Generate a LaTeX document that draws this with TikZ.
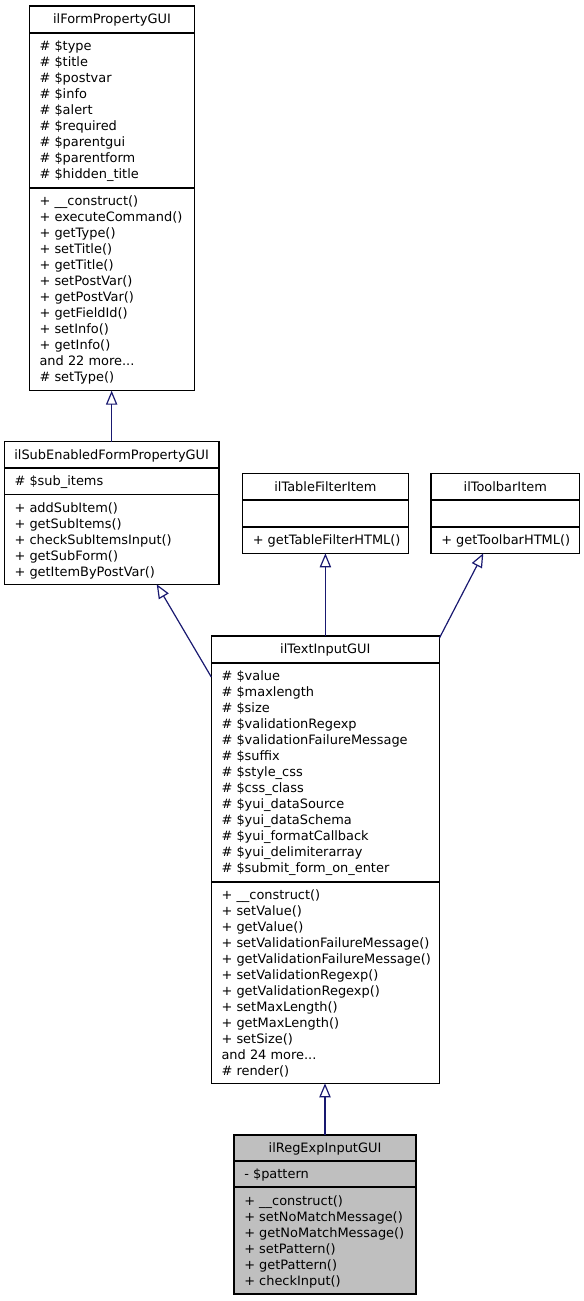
\documentclass[tikz,border=0pt]{standalone}
\usepackage{fontspec}
\setmainfont{DejaVu Sans}
\usetikzlibrary{arrows.meta,calc,fit}
\definecolor{edgeblue}{HTML}{191970}
\definecolor{regfill}{HTML}{BFBFBF}
\tikzset{
  box/.style={draw=black, line width=0.8pt, inner sep=0pt, outer sep=0pt},
  sepline/.style={draw=black, line width=1.2pt},
  txt/.style={anchor=base west, inner sep=0pt, font=\fontsize{9.7}{12}\selectfont},
  ttl/.style={anchor=base, inner sep=0pt, font=\fontsize{9.7}{12}\selectfont},
  inh/.style={draw=edgeblue, line width=0.9pt, -{Triangle[open, length=10.5pt, width=8.5pt]}}
}
\newcommand\tdots{...}
\newcommand\mylines[4]{\foreach \t [count=\i] in {#4} {\node[txt] (#1\i) at (#2,{#3+16*(\i-1)}) {\t};}}
\begin{document}
\begin{tikzpicture}[x=0.75pt,y=-0.75pt]
\useasboundingbox (0,0) rectangle (584,1301);
% ilFormPropertyGUI
\node[box, fit={(29.3,6) (194.7,390.7)}] (form) {};
\draw[sepline] (29.3,33) -- (194.7,33);
\draw[sepline] (29.3,188) -- (194.7,188);
\node[ttl] (formt) at (112,24) {ilFormPropertyGUI};
\mylines{forma}{39.3}{51}{\# \$type, \# \$title, \# \$postvar, \# \$info, \# \$alert, \# \$required, \# \$parentgui, \# \$parentform, \# \$hidden\_title}
\mylines{formm}{39.3}{206}{+ \_\_construct(), + executeCommand(), + getType(), + setTitle(), + getTitle(), + setPostVar(), + getPostVar(), + getFieldId(), + setInfo(), + getInfo(), and 22 more\tdots, \# setType()}
% ilSubEnabledFormPropertyGUI
\node[box, fit={(4.3,441.7) (219,584.3)}] (sub) {};
\draw[sepline] (4.3,467.7) -- (219,467.7);
\draw[sepline] (4.3,494.3) -- (219,494.3);
\node[ttl] (subt) at (111.65,459.2) {ilSubEnabledFormPropertyGUI};
\mylines{suba}{14.3}{485.7}{\# \$sub\_items}
\mylines{subm}{14.3}{512.3}{+ addSubItem(), + getSubItems(), + checkSubItemsInput(), + getSubForm(), + getItemByPostVar()}
% ilTableFilterItem
\node[box, fit={(242.5,473.3) (408.3,553.3)}] (tfi) {};
\draw[sepline] (242.5,500) -- (408.3,500);
\draw[sepline] (242.5,526.7) -- (408.3,526.7);
\node[ttl] (tfit) at (325.4,491.2) {ilTableFilterItem};
\mylines{tfim}{252.5}{544.7}{+ getTableFilterHTML()}
% ilToolbarItem
\node[box, fit={(431,473.3) (579.5,553.3)}] (tbi) {};
\draw[sepline] (431,500) -- (579.5,500);
\draw[sepline] (431,526.7) -- (579.5,526.7);
\node[ttl] (tbit) at (505.25,491.2) {ilToolbarItem};
\mylines{tbim}{441}{544.7}{+ getToolbarHTML()}
% ilTextInputGUI
\node[box, fit={(211.3,636) (439.3,1083.3)}] (tig) {};
\draw[sepline] (211.3,662.7) -- (439.3,662.7);
\draw[sepline] (211.3,881.7) -- (439.3,881.7);
\node[ttl] (tigt) at (325.3,653.9) {ilTextInputGUI};
\mylines{tiga}{221.3}{680.7}{\# \$value, \# \$maxlength, \# \$size, \# \$validationRegexp, \# \$validationFailureMessage, \# \$suffix, \# \$style\_css, \# \$css\_class, \# \$yui\_dataSource, \# \$yui\_dataSchema, \# \$yui\_formatCallback, \# \$yui\_delimiterarray, \# \$submit\_form\_on\_enter}
\mylines{tigm}{221.3}{899.7}{+ \_\_construct(), + setValue(), + getValue(), + setValidationFailureMessage(), + getValidationFailureMessage(), + setValidationRegexp(), + getValidationRegexp(), + setMaxLength(), + getMaxLength(), + setSize(), and 24 more\tdots, \# render()}
% ilRegExpInputGUI
\node[box, fill=regfill, fit={(234,1135) (416,1294)}] (reg) {};
\draw[sepline] (234,1160.7) -- (416,1160.7);
\draw[sepline] (234,1187) -- (416,1187);
\node[ttl] (regt) at (325,1152.4) {ilRegExpInputGUI};
\mylines{rega}{244}{1178.7}{- \$pattern}
\mylines{regm}{244}{1205}{+ \_\_construct(), + setNoMatchMessage(), + getNoMatchMessage(), + setPattern(), + getPattern(), + checkInput()}
% inheritance connectors
\draw[inh] (sub.north) -- (sub.north |- form.south);
\draw[inh] ($(tig.north west)+(0,41)$) -- ($(sub.south west)+(152.4,0)$);
\draw[inh] (tig.north -| tfi.south) -- (tfi.south);
\draw[inh] ($(tig.north east)+(0,2.3)$) -- ($(tbi.south west)+(52.3,0)$);
\draw[inh] (reg.north) -- (reg.north |- tig.south);
\end{tikzpicture}
\end{document}
